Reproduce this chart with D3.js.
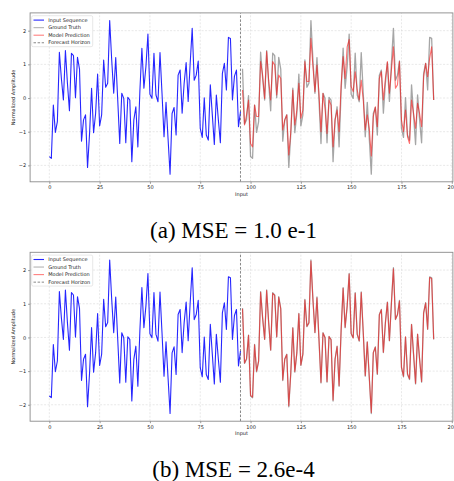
<!DOCTYPE html>
<html><head><meta charset="utf-8">
<script src="https://cdn.jsdelivr.net/npm/d3@7"></script>
<style>body{margin:0;background:#fff}svg{display:block}</style>
</head><body>
<svg id="c" width="454" height="481"></svg>
<script>
const inputSeq=[-1.74,-1.79,-0.21,-1.02,-0.70,1.36,0.58,-0.06,1.41,0.44,-0.38,1.33,1.26,0.01,1.21,0.86,-1.28,-0.65,-0.50,-2.06,-1.05,0.29,-1.03,-0.46,0.71,-0.83,-0.50,1.13,0.32,0.44,2.30,1.13,0.14,1.20,-0.06,-1.35,0.14,-0.01,-1.33,0.02,-0.06,-1.89,-0.65,-0.26,-1.45,0.20,1.48,0.29,0.93,1.90,0.11,-0.01,1.33,0.09,-0.11,1.35,0.14,-1.15,-0.13,-1.20,-2.26,-0.46,-0.28,-1.10,0.68,0.83,-0.45,0.44,1.05,-0.10,1.03,2.07,0.53,0.68,1.10,-0.90,-1.17,0.01,-1.10,-1.25,0.39,-0.50,-1.38,0.09,-0.65,-1.33,0.73,1.03,0.24,1.80,1.77,-0.06,0.65,0.83,-0.85,-0.40];
const groundTruth=[0.87,-0.77,-0.65,0.07,-1.74,-1.79,-0.21,-1.02,-0.70,1.36,0.58,-0.06,1.41,0.44,-0.38,1.33,1.26,0.01,1.21,0.86,-1.28,-0.65,-0.50,-2.06,-1.05,0.29,-1.03,-0.46,0.71,-0.83,-0.50,1.13,0.32,0.44,2.30,1.13,0.14,1.20,-0.06,-1.35,0.14,-0.01,-1.33,0.02,-0.06,-1.89,-0.65,-0.26,-1.45,0.20,1.48,0.29,0.93,1.90,0.11,-0.01,1.33,0.09,-0.11,1.35,0.14,-1.15,-0.13,-1.20,-2.26,-0.46,-0.28,-1.10,0.68,0.83,-0.45,0.44,1.05,-0.10,1.03,2.07,0.53,0.68,1.10,-0.90,-1.17,0.01,-1.10,-1.25,0.39,-0.50,-1.38,0.09,-0.65,-1.33,0.73,1.03,0.24,1.80,1.77,-0.06];
const predA=[0.24,-0.80,-0.50,-0.06,-1.35,-1.45,-0.21,-0.55,-0.55,1.08,0.68,-0.01,1.38,0.53,-0.06,1.08,0.98,0.09,0.68,0.58,-0.95,-0.65,-0.50,-1.69,-1.00,0.24,-0.80,-0.36,0.44,-0.60,-0.36,1.08,0.49,0.49,1.77,0.93,0.19,0.98,0.14,-1.00,0.14,-0.31,-1.05,-0.06,-0.21,-1.45,-0.65,-0.36,-1.00,0.39,1.23,0.58,1.52,1.74,0.34,0.19,0.78,0.24,-0.06,0.53,-0.06,-0.95,-0.50,-0.90,-1.72,-0.55,-0.26,-0.85,0.58,0.78,-0.06,0.58,1.08,0.14,0.83,1.52,0.29,0.39,1.08,-0.65,-1.00,-0.36,-1.15,-1.35,-0.06,-0.46,-0.90,-0.16,-0.46,-0.85,0.63,1.03,0.63,1.18,1.52,-0.06];
const predB=[0.85,-0.76,-0.63,0.06,-1.72,-1.77,-0.22,-1.00,-0.71,1.34,0.57,-0.05,1.39,0.45,-0.37,1.31,1.25,0.02,1.19,0.85,-1.26,-0.64,-0.51,-2.03,-1.04,0.28,-1.01,-0.45,0.70,-0.82,-0.49,1.11,0.33,0.43,2.27,1.12,0.15,1.18,-0.05,-1.33,0.13,0.00,-1.31,0.03,-0.07,-1.86,-0.64,-0.27,-1.43,0.21,1.46,0.30,0.92,1.88,0.12,-0.02,1.31,0.10,-0.10,1.33,0.15,-1.13,-0.14,-1.18,-2.23,-0.45,-0.29,-1.08,0.67,0.82,-0.44,0.43,1.04,-0.09,1.02,2.04,0.54,0.67,1.08,-0.88,-1.15,0.02,-1.08,-1.23,0.38,-0.49,-1.36,0.10,-0.64,-1.31,0.72,1.02,0.25,1.78,1.75,-0.05];
const xTicks=[0,25,50,75,100,125,150,175,200];
const yTicks=[-2,-1,0,1,2];
const horizon=95;
const captions=["(a) MSE = 1.0 e-1","(b) MSE = 2.6e-4"];
const legendLabels=["Input Sequence","Ground Truth","Model Prediction","Forecast Horizon"];

const svg=d3.select("#c");
const inX=d3.range(inputSeq.length);
const fcX=d3.range(inputSeq.length,inputSeq.length+groundTruth.length);
const allVals=inputSeq.concat(groundTruth);
const ymin=d3.min(allVals), ymax=d3.max(allVals);
const xmin=0, xmax=inputSeq.length+groundTruth.length-1;
const mx=(xmax-xmin)*0.05, my=(ymax-ymin)*0.05;

function panel(oy,pred,cap){
  const g=svg.append("g").attr("transform",`translate(0,${oy})`);
  const x=d3.scaleLinear().domain([xmin-mx,xmax+mx]).range([30.1,452.9]);
  const y=d3.scaleLinear().domain([ymin-my,ymax+my]).range([181.8,12.9]);
  const [x0,x1]=x.range(), [y0,y1]=y.range();
  // grid
  g.append("g").selectAll("line").data(xTicks.filter(t=>x(t)<=x1)).join("line")
    .attr("x1",d=>x(d)).attr("x2",d=>x(d)).attr("y1",y0).attr("y2",y1)
    .attr("stroke","#d9d9d9").attr("stroke-width",0.6).attr("stroke-dasharray","2,1.5");
  g.append("g").selectAll("line").data(yTicks).join("line")
    .attr("x1",x0).attr("x2",x1).attr("y1",d=>y(d)).attr("y2",d=>y(d))
    .attr("stroke","#d9d9d9").attr("stroke-width",0.6).attr("stroke-dasharray","2,1.5");
  // axes
  const xa=g.append("g").attr("transform",`translate(0,${y0})`)
    .call(d3.axisBottom(x).tickValues(xTicks).tickSize(2).tickPadding(2).tickFormat(d3.format("d")));
  const ya=g.append("g").attr("transform",`translate(${x0},0)`)
    .call(d3.axisLeft(y).tickValues(yTicks).tickSize(2).tickPadding(2).tickFormat(d=>d<0?"\u2212"+Math.abs(d):d));
  [xa,ya].forEach(a=>{a.select(".domain").remove();
    a.selectAll(".tick line").attr("stroke","#555").attr("stroke-width",0.6);
    a.selectAll(".tick text").attr("font-family","DejaVu Sans").attr("font-size",5).attr("fill","#222");});
  g.append("text").attr("x",(x0+x1)/2).attr("y",y0+14.2).attr("text-anchor","middle")
    .attr("font-family","DejaVu Sans").attr("font-size",5).attr("fill","#222").text("Input");
  g.append("text").attr("transform",`translate(14.5,${(y0+y1)/2}) rotate(-90)`).attr("text-anchor","middle")
    .attr("font-family","DejaVu Sans").attr("font-size",5).attr("fill","#222").text("Normalized Amplitude");
  const line=d3.line().x(d=>x(d[0])).y(d=>y(d[1]));
  const clip="clip"+oy;
  g.append("clipPath").attr("id",clip).append("rect").attr("x",x0).attr("y",y1).attr("width",x1-x0).attr("height",y0-y1);
  const pl=g.append("g").attr("clip-path",`url(#${clip})`);
  pl.append("path").datum(d3.zip(inX,inputSeq)).attr("d",line).attr("fill","none")
    .attr("stroke","#0000ff").attr("stroke-opacity",0.85).attr("stroke-width",1.1).attr("stroke-linejoin","round");
  pl.append("path").datum(d3.zip(fcX,groundTruth)).attr("d",line).attr("fill","none")
    .attr("stroke","#808080").attr("stroke-opacity",0.7).attr("stroke-width",1.3).attr("stroke-linejoin","round");
  pl.append("path").datum(d3.zip(fcX,pred)).attr("d",line).attr("fill","none")
    .attr("stroke","#ff0000").attr("stroke-opacity",0.55).attr("stroke-width",1.1).attr("stroke-linejoin","round");
  pl.append("line").attr("x1",x(horizon)).attr("x2",x(horizon)).attr("y1",y0).attr("y2",y1)
    .attr("stroke","#555").attr("stroke-width",0.7).attr("stroke-dasharray","2.5,1.6");
  // frame
  g.append("rect").attr("x",x0).attr("y",y1).attr("width",x1-x0).attr("height",y0-y1)
    .attr("fill","none").attr("stroke","#8a8a8a").attr("stroke-width",0.9);
  // legend
  const lg=g.append("g").attr("transform",`translate(${x0+1.6},${y1+2.8})`);
  lg.append("rect").attr("width",61).attr("height",31).attr("rx",1.5)
    .attr("fill","#fff").attr("fill-opacity",0.85).attr("stroke","#d0d0d0").attr("stroke-width",0.5);
  const styles=[{c:"#0000ff",o:0.85,w:1.1,d:null},{c:"#808080",o:0.6,w:1.1,d:null},{c:"#ff0000",o:0.5,w:1.1,d:null},{c:"#555",o:1,w:0.7,d:"2.5,1.6"}];
  legendLabels.forEach((t,i)=>{
    const yy=4.4+i*7.55;
    lg.append("line").attr("x1",1.8).attr("x2",12.3).attr("y1",yy).attr("y2",yy)
      .attr("stroke",styles[i].c).attr("stroke-opacity",styles[i].o).attr("stroke-width",styles[i].w)
      .attr("stroke-dasharray",styles[i].d);
    lg.append("text").attr("x",16.6).attr("y",yy+1.7).attr("font-family","DejaVu Sans").attr("font-size",5)
      .attr("fill","#222").text(t);
  });
  svg.append("text").attr("x",233.5).attr("y",oy+237.5).attr("text-anchor","middle")
    .attr("font-family","Liberation Serif").attr("font-size",23).attr("fill","#000").text(cap);
}
panel(0,predA,captions[0]);
panel(239.4,predB,captions[1]);
</script>
</body></html>
